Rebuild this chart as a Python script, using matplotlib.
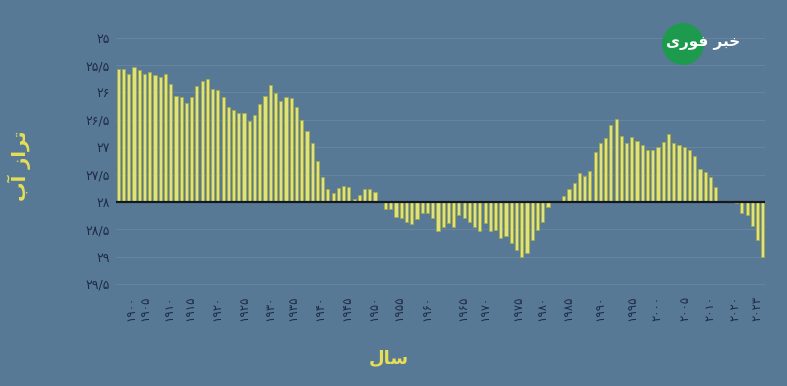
import numpy as np
import matplotlib
matplotlib.use("Agg")
import matplotlib.pyplot as plt
from matplotlib.patches import Ellipse

# water level per year (1900-2023), baseline 28
years = list(range(1900, 2024))
levels = [
    25.57, 25.57, 25.67, 25.54, 25.59, 25.67, 25.62, 25.69, 25.71, 25.67,
    25.85, 26.07, 26.09, 26.20, 26.09, 25.89, 25.80, 25.76, 25.94, 25.96,
    26.09, 26.26, 26.33, 26.38, 26.38, 26.52, 26.41, 26.21, 26.06, 25.87,
    26.01, 26.15, 26.09, 26.10, 26.27, 26.51, 26.71, 26.93, 27.25, 27.55,
    27.77, 27.84, 27.74, 27.71, 27.73, 27.94, 27.87, 27.76, 27.76, 27.82,
    28.00, 28.13, 28.13, 28.27, 28.30, 28.36, 28.40, 28.31, 28.21, 28.21,
    28.30, 28.54, 28.46, 28.39, 28.46, 28.24, 28.30, 28.36, 28.46, 28.53,
    28.39, 28.54, 28.51, 28.66, 28.62, 28.76, 28.88, 29.01, 28.94, 28.69,
    28.51, 28.36, 28.09, 28.00, 28.00, 27.89, 27.77, 27.66, 27.48, 27.52,
    27.43, 27.08, 26.93, 26.84, 26.59, 26.48, 26.79, 26.92, 26.82, 26.88,
    26.96, 27.05, 27.06, 26.99, 26.90, 26.76, 26.92, 26.97, 27.00, 27.06,
    27.17, 27.40, 27.45, 27.55, 27.72, 28.00, 28.00, 28.00, 28.02, 28.21,
    28.24, 28.44, 28.69, 29.00,
]
base = 28.0

ytick_vals = [25, 25.5, 26, 26.5, 27, 27.5, 28, 28.5, 29, 29.5]
ytick_labels = ["۲۵", "۲۵/۵", "۲۶", "۲۶/۵", "۲۷", "۲۷/۵", "۲۸", "۲۸/۵", "۲۹", "۲۹/۵"]

xtick_labels = ["۱۹۰۰", "۱۹۰۵", "۱۹۱۰", "۱۹۱۵", "۱۹۲۰", "۱۹۲۵", "۱۹۳۰", "۱۹۳۵",
                "۱۹۴۰", "۱۹۴۵", "۱۹۵۰", "۱۹۵۵", "۱۹۶۰", "۱۹۶۵", "۱۹۷۰", "۱۹۷۵",
                "۱۹۸۰", "۱۹۸۵", "۱۹۹۰", "۱۹۹۵", "۲۰۰۰", "۲۰۰۵", "۲۰۱۰", "۲۰۲۰", "۲۰۲۳"]
xtick_pos = [2.4, 5.0, 9.7, 13.7, 18.9, 24.0, 29.0, 33.4, 38.5, 43.6, 48.7, 53.6,
             58.9, 65.8, 70.0, 76.3, 80.9, 85.8, 91.9, 98.0, 102.8, 108.1, 112.9,
             117.7, 121.9]

# pre-shaped arabic (matplotlib has no shaping), visual order
ylabel_txt = "ﺏﺁ ﺯﺍﺮﺗ"   # تراز آب
xlabel_txt = "ﻝﺎﺳ"       # سال
logo_txt = "ﯼﺭﻮﻓ ﺮﺒﺧ"    # خبر فوری

bg = "#587995"
bar_face = "#e0e37c"
bar_edge = "#a3aa48"
tick_col = "#1d2b46"
label_col = "#e6df55"

fig = plt.figure(figsize=(7.87, 3.86), dpi=100)
fig.patch.set_facecolor(bg)
ax = fig.add_axes([0.147, 0.2487, 0.8256, 0.6736])
ax.set_facecolor(bg)

x = np.arange(len(years))
vals = np.array(levels)
ax.bar(x, vals - base, bottom=base, width=0.6, color=bar_face,
       edgecolor=bar_edge, linewidth=0.6, zorder=3)
ax.axhline(base, color="#15191f", lw=1.6, zorder=4)

ax.set_xlim(-0.5, len(years) - 0.5)
ax.set_ylim(29.61, 24.86)

ax.set_yticks(ytick_vals)
ax.set_yticklabels(ytick_labels, fontsize=9, color=tick_col, family="DejaVu Sans")
ax.set_xticks(xtick_pos)
ax.set_xticklabels(xtick_labels, rotation=90, fontsize=8.5, color=tick_col,
                   family="DejaVu Sans")
ax.tick_params(length=0, pad=4)
ax.grid(axis="y", color="#65849f", lw=0.8, zorder=0)
for s in ax.spines.values():
    s.set_visible(False)

fig.text(19 / 787, 1 - 166 / 386, ylabel_txt, rotation=90, ha="center", va="center",
         fontsize=14, fontweight="bold", color=label_col, family="DejaVu Sans")
fig.text(389 / 787, 1 - 358 / 386, xlabel_txt, ha="center", va="center",
         fontsize=13, fontweight="bold", color=label_col, family="DejaVu Sans")

# logo
fig.add_artist(Ellipse((683 / 787, 1 - 44 / 386), 42 / 787, 42 / 386,
                       transform=fig.transFigure, facecolor="#1e9a4f",
                       edgecolor="none"))
fig.text(703 / 787, 1 - 42 / 386, logo_txt, ha="center", va="center", fontsize=11,
         fontweight="bold", color="white", family="DejaVu Sans")

fig.savefig("out.png", dpi=100, facecolor=bg)
